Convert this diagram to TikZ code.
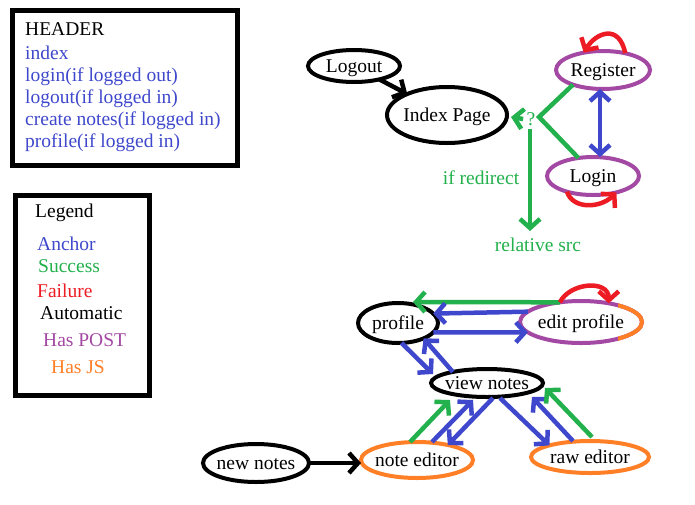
\documentclass[tikz,border=0pt]{standalone}
\usepackage{fontspec}
\setmainfont{Liberation Serif}
\usetikzlibrary{arrows.meta,shapes.geometric}
\definecolor{pblue}{RGB}{63,72,204}
\definecolor{pgreen}{RGB}{34,177,76}
\definecolor{pred}{RGB}{237,28,36}
\definecolor{ppurple}{RGB}{163,73,164}
\definecolor{porange}{RGB}{255,127,39}
\begin{document}
\begin{tikzpicture}[x=1pt,y=-1pt,
  every node/.style={font=\fontsize{19.5}{22}\selectfont},
  el/.style={ellipse, draw=#1, line width=4pt, inner sep=-6pt, outer sep=0pt, text height=13.5pt, text depth=0pt},
  el/.default=black,
  txt/.style={anchor=base west, inner sep=0pt},
  con/.style={line width=4.5pt, -{Straight Barb[length=9pt,width=20pt]}},
  dcon/.style={line width=4.5pt, {Straight Barb[length=9pt,width=20pt]}-{Straight Barb[length=9pt,width=20pt]}},
  plain/.style={line width=4.5pt}]
\fill[white] (0,0) rectangle (695,504);
\useasboundingbox (0,0) rectangle (695,504);

% Header box
\draw[line width=5pt] (12.5,10.5) rectangle (237.5,165.5);
\node[txt] (h0) at (25,35) {HEADER};
\node[txt, text=pblue] (h1) at (25,59) {index};
\node[txt, text=pblue] (h2) at (25,81) {login(if logged out)};
\node[txt, text=pblue] (h3) at (25,103) {logout(if logged in)};
\node[txt, text=pblue] (h4) at (25,125) {create notes(if logged in)};
\node[txt, text=pblue] (h5) at (25,147) {profile(if logged in)};

% Legend box
\draw[line width=5pt] (15.5,195.5) rectangle (149.5,395.5);
\node[txt] (l0) at (35,217) {Legend};
\node[txt, text=pblue] (l1) at (37,250) {Anchor};
\node[txt, text=pgreen] (l2) at (38,272) {Success};
\node[txt, text=pred] (l3) at (37,297) {Failure};
\node[txt] (l4) at (40,319) {Automatic};
\node[txt, text=ppurple] (l5) at (43,346) {Has POST};
\node[txt, text=porange] (l6) at (51,373) {Has JS};

% Top graph nodes
\node[el, minimum width=92pt, minimum height=32pt] (lo) at (354,66) {Logout};
\node[el, minimum width=120pt, minimum height=56pt] (idx) at (447,115) {Index Page};
\node[el=ppurple, minimum width=94pt, minimum height=38pt] (reg) at (603,70) {Register};
\node[el=ppurple, minimum width=92pt, minimum height=38pt] (login) at (593,176) {Login};
\node[text=pgreen] (q) at (531,119) {?};
\node[text=pgreen] (ifr) at (481,178) {if redirect};
\node[text=pgreen] (rel) at (538,245) {relative src};
\coordinate (j) at (539,117);
\coordinate (rsTip) at (530,231);

% Top connectors
\draw[con] (lo) -- (idx);
\draw[plain, pgreen] (reg.206) -- (j) -- (login.129);
\draw[con, pgreen] (q.west) -- ([shift={(4,2)}]idx.east);
\draw[con, pgreen] ([shift={(-1,0)}]q.south) -- (rsTip);
\draw[dcon, pblue] ([shift={(-3,0)}]reg.south) -- ([shift={(-3,0)}]reg.south |- login.north);
\draw[con, pred] (reg.37) .. controls +(-6,-30) and +(12,-20) .. (reg.138);
\draw[con, pred] (login.211) .. controls +(6,18) and +(-16,16) .. (login.-35);

% Bottom graph nodes
\node[el, minimum width=80pt, minimum height=40pt] (prof) at (398,323) {profile};
\node[el=ppurple, minimum width=122pt, minimum height=42pt] (ep) at (581,322) {edit profile};
\begin{scope}
  \clip (618,290) rectangle (660,355);
  \draw[porange, line width=4pt] (ep.center) ellipse [x radius=61pt, y radius=21pt];
\end{scope}
\node[el, minimum width=112pt, minimum height=28pt] (vn) at (487,383) {view notes};
\node[el, minimum width=106pt, minimum height=38pt] (nn) at (256,463) {new notes};
\node[el=porange, minimum width=112pt, minimum height=36pt] (ne) at (417,460) {note editor};
\node[el=porange, minimum width=118pt, minimum height=32pt] (re) at (590,457) {raw editor};

% Bottom connectors
\draw[con, pgreen] (ep.137) -- ([shift={(15,-21)}]prof.center);
\draw[con, pred] (ep.137) .. controls +(10,-20) and +(0,-24) .. (ep.34);
\draw[con, pblue] (ep.169) -- (prof.15);
\draw[con, pblue] (prof.-15) -- (ep.191);
\draw[con, pblue] (prof.-80) -- ([shift={(2,-9)}]vn.west);
\draw[con, pblue] (vn.162) -- (prof.-31);
\draw[con, pgreen] ([shift={(-7,0)}]ne.north) -- ([shift={(-37,3)}]vn.south);
\draw[con, pblue] ([shift={(15,0)}]ne.north) -- ([shift={(-14,3)}]vn.south);
\draw[con, pblue] ([shift={(6,1)}]vn.south) -- (ne.26);
\draw[con, pblue] ([shift={(13,1)}]vn.south) -- (re.164);
\draw[con, pblue] ([shift={(-17,0)}]re.north) -- ([shift={(45,14)}]vn.center);
\draw[con, pgreen] ([shift={(2,-4)}]re.north) -- ([shift={(58,5)}]vn.center);
\draw[con] (nn.east) -- (nn.east -| ne.west);
\end{tikzpicture}
\end{document}
